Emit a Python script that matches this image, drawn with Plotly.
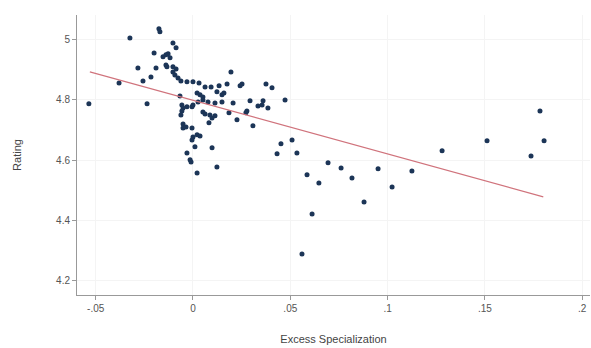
import plotly.graph_objects as go

# Excess specialization vs. rating, one dot per observation
excess_spec = [
    -0.0535, -0.0324, -0.0380, -0.0283, -0.0257, -0.0236, -0.0216, -0.0200, -0.0190, -0.0175,
    -0.0170, -0.0154, -0.0139, -0.0128, -0.0118, -0.0139, -0.0134, -0.0103, -0.0087, -0.0103,
    -0.0087, -0.0103, -0.0093, -0.0077, -0.0062, -0.0031, 0.0000, 0.0031, 0.0062, 0.0093,
    0.0021, 0.0036, 0.0051, -0.0067, 0.0123, -0.0057, -0.0051, -0.0031, -0.0005, 0.0000,
    -0.0057, -0.0062, -0.0051, -0.0051, -0.0036, -0.0005, 0.0051, 0.0062, 0.0087, 0.0098,
    0.0082, 0.0026, 0.0051, 0.0077, 0.0113, 0.0000, 0.0021, 0.0036, -0.0005, 0.0010,
    0.0098, -0.0031, -0.0015, -0.0010, 0.0021, 0.0123, 0.0134, 0.0175, 0.0242, 0.0252,
    0.0375, 0.0406, 0.0195, 0.0149, 0.0159, 0.0149, 0.0206, 0.0293, 0.0334, 0.0355,
    0.0360, 0.0385, 0.0473, 0.0185, 0.0277, 0.0272, 0.0113, 0.0226, 0.0308, 0.0432,
    0.0452, 0.0509, 0.0534, 0.0586, 0.0694, 0.0761, 0.0817, 0.0951, 0.1125, 0.1280,
    0.1511, 0.1783, 0.1804, 0.1737, 0.0647, 0.1023, 0.0879, 0.0612, 0.0560,
]
rating = [
    4.787, 5.006, 4.856, 4.906, 4.863, 4.787, 4.876, 4.956, 4.906, 5.036,
    5.026, 4.943, 4.950, 4.953, 4.940, 4.916, 4.910, 4.989, 4.973, 4.910,
    4.903, 4.893, 4.883, 4.873, 4.863, 4.860, 4.860, 4.856, 4.843, 4.843,
    4.823, 4.817, 4.810, 4.813, 4.827, 4.783, 4.773, 4.777, 4.777, 4.783,
    4.763, 4.750, 4.720, 4.707, 4.710, 4.707, 4.760, 4.753, 4.750, 4.740,
    4.724, 4.793, 4.800, 4.793, 4.790, 4.677, 4.684, 4.680, 4.667, 4.644,
    4.641, 4.624, 4.601, 4.594, 4.557, 4.577, 4.847, 4.853, 4.847, 4.853,
    4.853, 4.840, 4.893, 4.817, 4.823, 4.793, 4.790, 4.797, 4.780, 4.783,
    4.797, 4.773, 4.800, 4.757, 4.763, 4.757, 4.747, 4.734, 4.714, 4.621,
    4.654, 4.667, 4.624, 4.551, 4.591, 4.574, 4.541, 4.571, 4.564, 4.631,
    4.664, 4.763, 4.664, 4.614, 4.524, 4.511, 4.461, 4.421, 4.288,
]

# Linear fit, drawn between its two end points
fit_x = [-0.0530, 0.1800]
fit_y = [4.893, 4.478]

x_ticks = [-0.05, 0, 0.05, 0.1, 0.15, 0.2]
x_tick_labels = ["-.05", "0", ".05", ".1", ".15", ".2"]
y_ticks = [4.2, 4.4, 4.6, 4.8, 5.0]
y_tick_labels = ["4.2", "4.4", "4.6", "4.8", "5"]

fig = go.Figure()
fig.add_trace(go.Scatter(
    x=excess_spec, y=rating, mode="markers",
    marker=dict(size=5, color="#1c3557", line=dict(width=0)),
    showlegend=False,
))
fig.add_trace(go.Scatter(
    x=fit_x, y=fit_y, mode="lines",
    line=dict(color="#d0737c", width=1.1),
    showlegend=False,
))

axis_font = dict(family="Liberation Sans, Arial, sans-serif", size=10, color="#555555")
title_font = dict(family="Liberation Sans, Arial, sans-serif", size=11, color="#444444")

fig.update_layout(
    width=591, height=348,
    margin=dict(l=77, r=1, t=15, b=53),
    paper_bgcolor="white", plot_bgcolor="white",
    xaxis=dict(
        range=[-0.0596, 0.204],
        tickvals=x_ticks, ticktext=x_tick_labels,
        ticks="outside", ticklen=4, tickcolor="#999999",
        showline=True, linecolor="#999999", linewidth=1,
        showgrid=True, gridcolor="#f4f4f4", zeroline=False,
        tickfont=axis_font,
        title=dict(text="Excess Specialization", font=title_font, standoff=22),
    ),
    yaxis=dict(
        range=[4.152, 5.082],
        tickvals=y_ticks, ticktext=y_tick_labels,
        ticks="outside", ticklen=4, tickcolor="#999999",
        showline=True, linecolor="#999999", linewidth=1,
        showgrid=True, gridcolor="#f4f4f4", zeroline=False,
        tickfont=axis_font,
        title=dict(text="Rating", font=title_font, standoff=32),
    ),
)

fig.write_html("out.html")
